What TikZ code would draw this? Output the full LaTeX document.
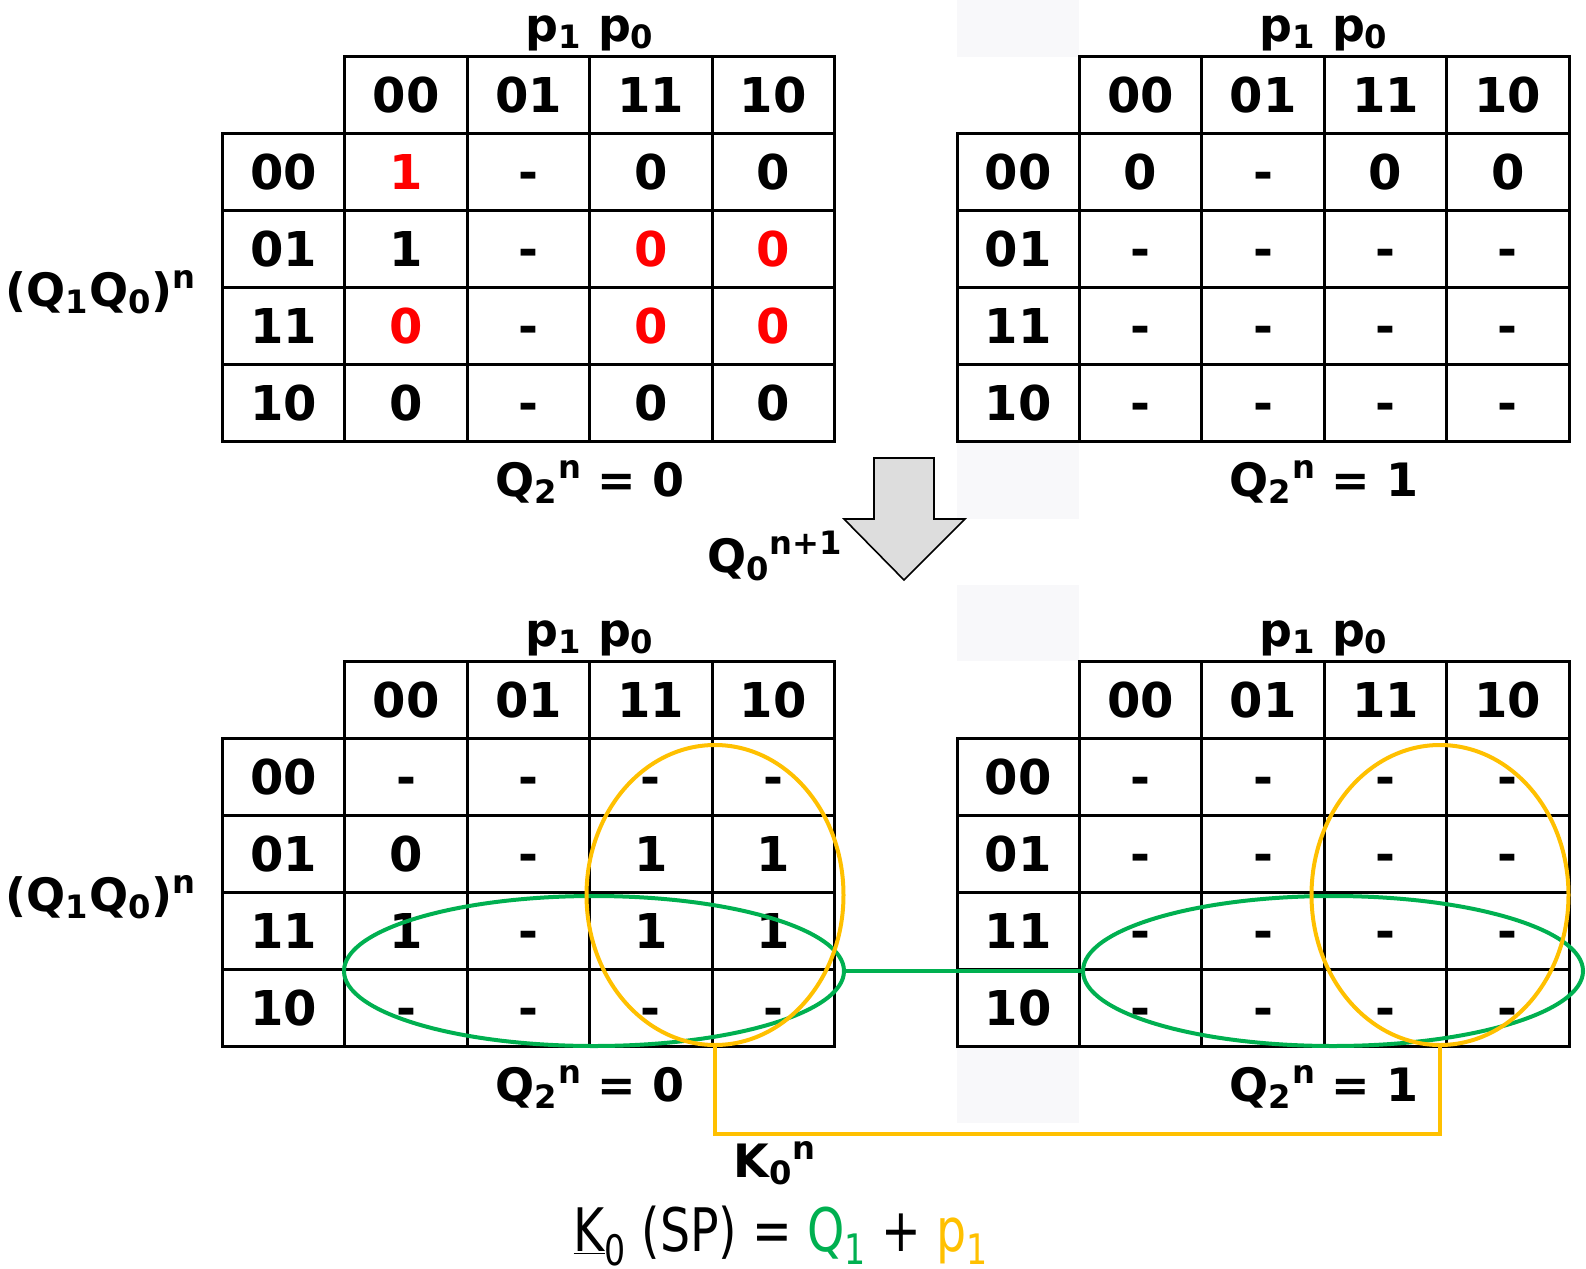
\documentclass[tikz,border=0pt]{standalone}
\usepackage{fontspec}
\setmainfont{DejaVu Sans}
\usepackage{xcolor}
\usepackage{graphicx}
\usetikzlibrary{shapes.geometric}
\definecolor{kred}{RGB}{255,0,0}
\definecolor{kgreen}{RGB}{0,176,80}
\definecolor{kyellow}{RGB}{255,192,0}
\definecolor{kgrey}{RGB}{248,248,250}
\definecolor{arrowfill}{RGB}{221,221,221}

\tikzset{
  cell/.style={draw, line width=1.5pt, minimum width=61.2pt, minimum height=38.45pt,
    inner sep=0pt, text height=17.5pt, text depth=0pt,
    font=\fontsize{24}{28}\selectfont\bfseries},
  lbl/.style={inner sep=0pt, font=\fontsize{23}{28}\selectfont\bfseries},
  loop/.style={draw, ellipse, line width=2pt, inner sep=0pt, outer sep=0pt},
}
\newcommand{\rd}[1]{\textcolor{kred}{#1}}
% one map: name, left x, top y, the 16 entries row by row
\newcommand{\kmap}[4]{%
  \foreach \c [count=\i] in {00,01,11,10} {
    \node[cell] (#1-h\i) at ({#2+(\i+0.5)*122.4},{#3+38.45}) {\c};
    \node[cell] (#1-r\i) at ({#2+61.2},{#3+(\i+0.5)*76.9}) {\c};
  }
  \foreach \v [count=\k from 0] in {#4} {
    \pgfmathtruncatemacro\rw{\k/4+1}
    \pgfmathtruncatemacro\cl{mod(\k,4)+1}
    \node[cell] (#1-\rw\cl) at ({#2+(\cl+0.5)*122.4},{#3+(\rw+0.5)*76.9}) {\v};
  }
}

\begin{document}
\begin{tikzpicture}[x=0.5pt, y=-0.5pt]
  \useasboundingbox (0,0) rectangle (1586,1269);

  % faint column behind the right maps
  \foreach \ya/\yb in {0/57, 441/519, 585/661, 1046/1123}
    \fill[kgrey] (957,\ya) rectangle (1079,\yb);

  % before
  \kmap{tl}{222.5}{56.6}{\rd{1}, -, 0, 0, 1, -, \rd{0}, \rd{0}, \rd{0}, -, \rd{0}, \rd{0}, 0, -, 0, 0}
  \kmap{tr}{957}{56.6}{0, -, 0, 0, -, -, -, -, -, -, -, -, -, -, -, -}
  % after
  \kmap{bl}{222.5}{661.5}{-, -, -, -, 0, -, 1, 1, 1, -, 1, 1, -, -, -, -}
  \kmap{br}{957}{661.5}{-, -, -, -, -, -, -, -, -, -, -, -, -, -, -, -}

  \node[lbl] (ptl) at (590,33) {p\textsubscript{1} p\textsubscript{0}};
  \node[lbl] (ptr) at (1324,33) {p\textsubscript{1} p\textsubscript{0}};
  \node[lbl] (pbl) at (590,638) {p\textsubscript{1} p\textsubscript{0}};
  \node[lbl] (pbr) at (1324,638) {p\textsubscript{1} p\textsubscript{0}};
  \node[lbl] (qt) at (101,292) {(Q\textsubscript{1}Q\textsubscript{0})\textsuperscript{n}};
  \node[lbl] (qb) at (101,897) {(Q\textsubscript{1}Q\textsubscript{0})\textsuperscript{n}};
  \node[lbl] (ztl) at (590,482) {Q\textsubscript{2}\textsuperscript{n} = 0};
  \node[lbl] (ztr) at (1324,482) {Q\textsubscript{2}\textsuperscript{n} = 1};
  \node[lbl] (zbl) at (590,1087) {Q\textsubscript{2}\textsuperscript{n} = 0};
  \node[lbl] (zbr) at (1324,1087) {Q\textsubscript{2}\textsuperscript{n} = 1};

  % arrow
  \draw[fill=arrowfill, line width=0.8pt] (874,458) -- (934,458) -- (934,519) -- (965,519)
    -- (904,580) -- (844,519) -- (874,519) -- cycle;
  \node[lbl] (qnext) at (775,556) {Q\textsubscript{0}\textsuperscript{n+1}};

  % loops
  \node[loop, kgreen, minimum width=250pt, minimum height=75pt] (glb) at (594,971) {};
  \node[loop, kyellow, minimum width=128.5pt, minimum height=150pt] (ylb) at (715,895) {};
  \node[loop, kgreen, minimum width=250pt, minimum height=75pt] (grb) at (1333,971) {};
  \node[loop, kyellow, minimum width=128.5pt, minimum height=150pt] (yrb) at (1440,895) {};
  \draw[kgreen, line width=2pt] (glb.east) -- (grb.west);
  \draw[kyellow, line width=2pt] (ylb.south) -- ++(0,89) -| (yrb.south);

  \node[lbl] (kn) at (775,1163) {K\textsubscript{0}\textsuperscript{n}};
  \node[inner sep=0pt, anchor=base, font=\fontsize{30}{36}\selectfont] (sp) at (781,1251)
    {\scalebox{0.79}[1]{\underline{K}\textsubscript{0} (SP) = \textcolor{kgreen}{Q\textsubscript{1}} + \textcolor{kyellow}{p\textsubscript{1}}}};
\end{tikzpicture}
\end{document}
